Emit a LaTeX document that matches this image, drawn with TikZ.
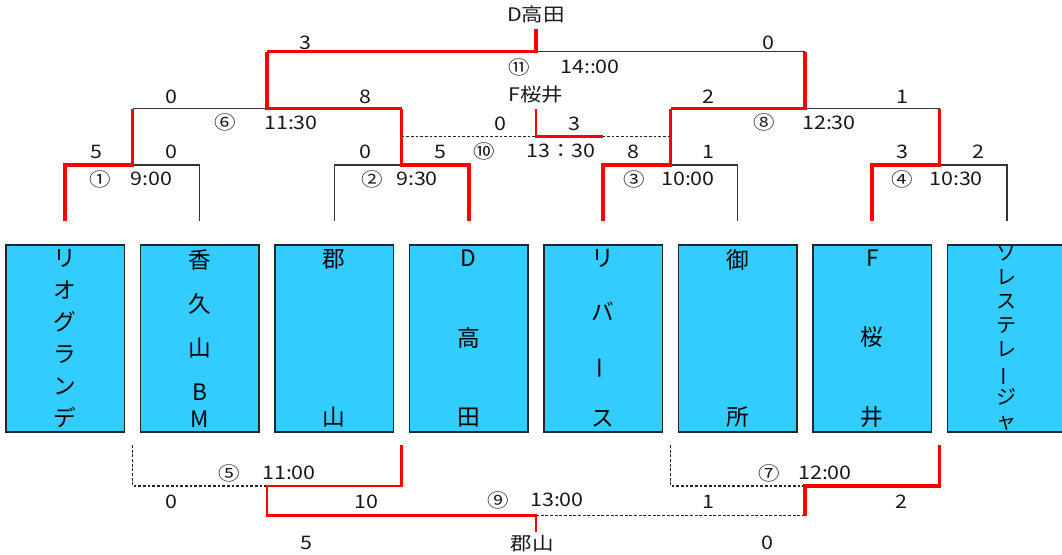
\documentclass[tikz,border=0pt]{standalone}
\usepackage{fontspec}
\usepackage{graphicx}
\usepackage{tikz}
\newfontfamily\jpfont{Noto Sans CJK JP}
\newfontfamily\jplabelfont[FakeStretch=1.15]{Noto Sans CJK JP}
\definecolor{teamcyan}{HTML}{33CCFF}
\definecolor{linegray}{HTML}{333333}
\newcommand{\teamcol}[2][133.5pt]{\begin{minipage}[c][#1]{80pt}\centering #2\end{minipage}}
\newcommand{\vbar}{\rotatebox[origin=c]{90}{ー}}

\begin{document}
\begin{tikzpicture}[x=0.75pt, y=-0.75pt,
    team/.style={draw=black!85, line width=1pt, fill=teamcyan, minimum width=88.9pt,
        minimum height=140.25pt, inner sep=0pt, font=\jpfont\fontsize{17}{20}\selectfont},
    lbl/.style={inner sep=0pt, text=black!90, font=\jplabelfont\fontsize{14}{16}\selectfont},
    win/.style={red, line width=2.7pt},
    winthin/.style={red, line width=2pt},
    lose/.style={linegray, line width=1.1pt},
    pending/.style={black!85, line width=1pt, dash pattern=on 2.2pt off 1.3pt}]
    \useasboundingbox (0,0) rectangle (1062,555);

    % Teams
    \node[team] (t1) at (65.25,338.5) {\teamcol{リ\vfill オ\vfill グ\vfill ラ\vfill ン\vfill デ}};
    \node[team] (t2) at (199.75,338.5) {\teamcol{香\vfill 久\vfill 山\vfill B\par M}};
    \node[team] (t3) at (334.25,338.5) {\teamcol{郡\vfill 山}};
    \node[team] (t4) at (468.75,338.5) {\teamcol{D\vfill 高\vfill 田}};
    \node[team] (t5) at (603.25,338.5) {\teamcol{リ\vfill バ\vfill \vbar\vfill ス}};
    \node[team] (t6) at (737.75,338.5) {\teamcol{御\vfill 所}};
    \node[team] (t7) at (872.25,338.5) {\teamcol{F\vfill 桜\vfill 井}};
    \node[team, font=\jpfont\fontsize{15}{18}\selectfont] (t8) at (1006.75,338.5)
        {\teamcol[136pt]{ソ\vfill レ\vfill ス\vfill テ\vfill レ\vfill \vbar\vfill ジ\vfill ャ}};

    % Junctions
    \foreach \i in {1,...,8} {
        \coordinate (s\i) at (t\i.north |- 0,221);
    }
    \coordinate (m1) at (132.5,165);
    \coordinate (m2) at (401.5,165);
    \coordinate (m3) at (670.5,165);
    \coordinate (m4) at (939.5,165);
    \coordinate (m6) at (267,108.7);
    \coordinate (m8) at (805,108.7);
    \coordinate (m10) at (536,136.7);
    \coordinate (m11) at (536,51.7);
    \coordinate (w10) at (536,109);
    \coordinate (w11) at (536,29);
    \coordinate (m5) at (267,486);
    \coordinate (m7) at (805,486);
    \coordinate (m9) at (536,515.7);
    \coordinate (w9) at (536,531.7);
    \foreach \i in {1,...,4} {
        \coordinate (b\i) at (m\i |- 0,445);
    }

    % First round
    \draw[lose] (s2) |- (m1);
    \draw[win] (s1) |- (m1) -- (m1 |- m6);
    \draw[lose] (s3) |- (m2);
    \draw[win] (s4) |- (m2) -- (m2 |- m6);
    \draw[lose] (s6) |- (m3);
    \draw[win] (s5) |- (m3) -- (m3 |- m8);
    \draw[lose] (s8) |- (m4);
    \draw[win] (s7) |- (m4) -- (m4 |- m8);

    % Semi finals and final
    \draw[lose] (m1 |- m6) -- (m6);
    \draw[win] (m2 |- m6) -- (m6) -- (m6 |- m11);
    \draw[lose] (m4 |- m8) -- (m8);
    \draw[win] (m3 |- m8) -- (m8) -- (m8 |- m11);
    \draw[lose] (m11) -- (m8 |- m11);
    \draw[win] (m6 |- m11) -- (m11) -- (w11);

    % Third place
    \draw[pending] (m2 |- m10) -- (m3 |- m10);
    \draw[winthin] (w10) -- (m10) -- (s5 |- m10);

    % Lower bracket
    \draw[pending] (b1) |- (m5);
    \draw[winthin] (b2) |- (m5) -- (m5 |- m9) -- (m9) -- (w9);
    \draw[pending] (b3) |- (m7);
    \draw[pending] (m9) -- (m7 |- m9);
    \draw[win] (b4) |- (m7) -- (m7 |- m9);

    % Winners
    \node[lbl] (champ) at (536,14) {D高田};
    \node[lbl] (third) at (536,95) {F桜井};
    \node[lbl] (lowchamp) at (532,543.3) {郡山};

    % Scores
    \foreach \x/\y/\s [count=\i] in {305.5/42.7/3, 768/42.7/0, 171/96.7/0, 365/96.7/8,
        708/96.7/2, 902/96.7/1, 500/124/0, 574/124/3, 96/151.7/5, 171/151.7/0,
        365/151.7/0, 440/151.7/5, 633/151.7/8, 708/151.7/1, 902/151.7/3, 978/151.7/2,
        171/501.7/0, 366/501.7/10, 708/501.7/1, 901/501.7/2, 306/543.3/5, 767/543.3/0} {
        \node[lbl] (sc\i) at (\x,\y) {\s};
    }

    % Game numbers and times
    \foreach \gx/\tx/\y/\g/\t [count=\i] in {100/151.5/179/①/9:00, 372.6/417/179/②/9:30,
        634/688/179/③/10:00, 902/956/179/④/10:30, 229/289/473/⑤/11:00,
        225.5/291/122.7/⑥/11:30, 769/825/473/⑦/12:00, 764/829/122.7/⑧/12:30,
        498/557/500/⑨/13:00, 484/561/151/⑩/13：30, 519/590/67/⑪/14::00} {
        \node[lbl] (gm\i) at (\gx,\y) {\g};
        \node[lbl] (tm\i) at (\tx,\y) {\t};
    }
\end{tikzpicture}
\end{document}
